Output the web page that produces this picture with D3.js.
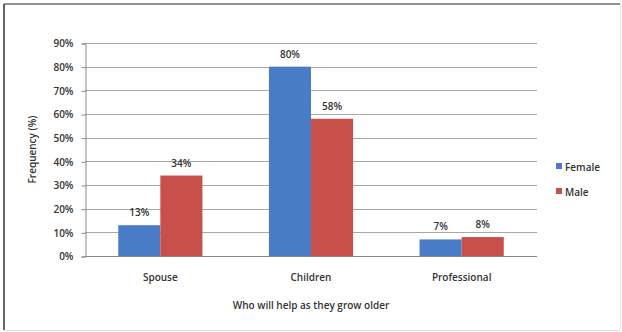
<!DOCTYPE html>
<html>
<head>
<meta charset="utf-8">
<script src="https://cdn.jsdelivr.net/npm/d3@7"></script>
<style>
  html, body { margin: 0; padding: 0; background: #fff; }
  svg { display: block; font-family: "Open Sans", "Liberation Sans", sans-serif; }
</style>
</head>
<body>
<svg id="chart" width="622" height="332"></svg>
<script>
// Who will help respondents as they grow older, by gender
const categories = ["Spouse", "Children", "Professional"];
const seriesNames = ["Female", "Male"];
const femaleValues = [13, 80, 7];
const maleValues = [34, 58, 8];
const yTicks = [0, 10, 20, 30, 40, 50, 60, 70, 80, 90];
const seriesColors = ["#4a7bc6", "#c8504b"];

const FONT = '"Open Sans", "Liberation Sans", sans-serif';
const svg = d3.select("#chart");
const W = 622, H = 332;

// Outer frame
svg.append("rect").attr("x", 0).attr("y", 0).attr("width", W).attr("height", H).attr("fill", "#fff");
svg.append("line").attr("x1", 4).attr("x2", 620).attr("y1", 4).attr("y2", 4).attr("stroke", "#6e6e6e").attr("stroke-width", 1.5);
svg.append("line").attr("x1", 4).attr("x2", 4).attr("y1", 4).attr("y2", 330).attr("stroke", "#333").attr("stroke-width", 1.5);
svg.append("line").attr("x1", 4).attr("x2", 620).attr("y1", 330.5).attr("y2", 330.5).attr("stroke", "#ddd").attr("stroke-width", 1);
svg.append("line").attr("x1", 620.5).attr("x2", 620.5).attr("y1", 4).attr("y2", 330).attr("stroke", "#e4e4e4").attr("stroke-width", 1);

const plot = { left: 85, right: 537, top: 43, bottom: 256 };

const x0 = d3.scaleBand().domain(categories).range([plot.left, plot.right]).paddingInner(0).paddingOuter(0);
const x1 = d3.scaleBand().domain(seriesNames).range([0, x0.bandwidth()]).paddingInner(0).paddingOuter(0.79);
const y = d3.scaleLinear().domain([0, 90]).range([plot.bottom, plot.top]);

// Gridlines
svg.append("g").selectAll("line").data(yTicks).join("line")
  .attr("x1", plot.left).attr("x2", plot.right)
  .attr("y1", d => Math.round(y(d)) + 0.5).attr("y2", d => Math.round(y(d)) + 0.5)
  .attr("stroke", "#a8a8a8").attr("stroke-width", 1);

// Y axis
const yAxis = d3.axisLeft(y).tickValues(yTicks).tickFormat(d => d + "%").tickSize(4).tickPadding(8);
const gy = svg.append("g").attr("transform", `translate(${plot.left + 0.5},0.5)`).call(yAxis)
  .attr("font-family", FONT);
gy.select(".domain").attr("stroke", "#888");
gy.selectAll(".tick line").attr("stroke", "#888");
gy.selectAll(".tick text").attr("fill", "#333").attr("font-size", 10).attr("font-weight", 600);

// Bars
const rows = categories.map((c, i) => ({ cat: c, vals: [femaleValues[i], maleValues[i]] }));
const groups = svg.append("g").selectAll("g").data(rows).join("g")
  .attr("transform", d => `translate(${x0(d.cat)},0)`);

groups.selectAll("rect").data(d => d.vals.map((v, j) => ({ v, s: seriesNames[j], j }))).join("rect")
  .attr("x", d => x1(d.s))
  .attr("width", x1.bandwidth())
  .attr("y", d => y(d.v))
  .attr("height", d => y(0) - y(d.v))
  .attr("fill", d => seriesColors[d.j]);

groups.selectAll("text").data(d => d.vals.map((v, j) => ({ v, s: seriesNames[j], j }))).join("text")
  .attr("x", d => x1(d.s) + x1.bandwidth() / 2)
  .attr("y", d => y(d.v) - 9)
  .attr("text-anchor", "middle")
  .attr("font-size", 10).attr("font-weight", 600).attr("fill", "#333")
  .text(d => d.v + "%");

// X axis base line and category labels
svg.append("line").attr("x1", plot.left).attr("x2", plot.right)
  .attr("y1", plot.bottom + 0.5).attr("y2", plot.bottom + 0.5).attr("stroke", "#888");

const xAxis = d3.axisBottom(x0).tickSize(0).tickPadding(18);
const gx = svg.append("g").attr("transform", `translate(0,${plot.bottom})`).call(xAxis)
  .attr("font-family", FONT);
gx.select(".domain").remove();
gx.selectAll(".tick text").attr("fill", "#333").attr("font-size", 10).attr("font-weight", 600);

// Axis titles
svg.append("text").attr("x", (plot.left + plot.right) / 2).attr("y", 309)
  .attr("text-anchor", "middle").attr("font-size", 10).attr("font-weight", 600).attr("fill", "#333")
  .text("Who will help as they grow older");

svg.append("text").attr("transform", `translate(36,${(plot.top + plot.bottom) / 2}) rotate(-90)`)
  .attr("text-anchor", "middle").attr("font-size", 10).attr("font-weight", 600).attr("fill", "#333")
  .text("Frequency (%)");

// Legend
const legend = svg.append("g").selectAll("g").data(seriesNames).join("g")
  .attr("transform", (d, i) => `translate(556,${167 + i * 25})`);
legend.append("rect").attr("x", 0).attr("y", -4).attr("width", 6).attr("height", 6)
  .attr("fill", (d, i) => seriesColors[i]);
legend.append("text").attr("x", 9).attr("y", 0).attr("dy", "0.35em")
  .attr("font-size", 10).attr("font-weight", 600).attr("fill", "#333")
  .text(d => d);
</script>
</body>
</html>
